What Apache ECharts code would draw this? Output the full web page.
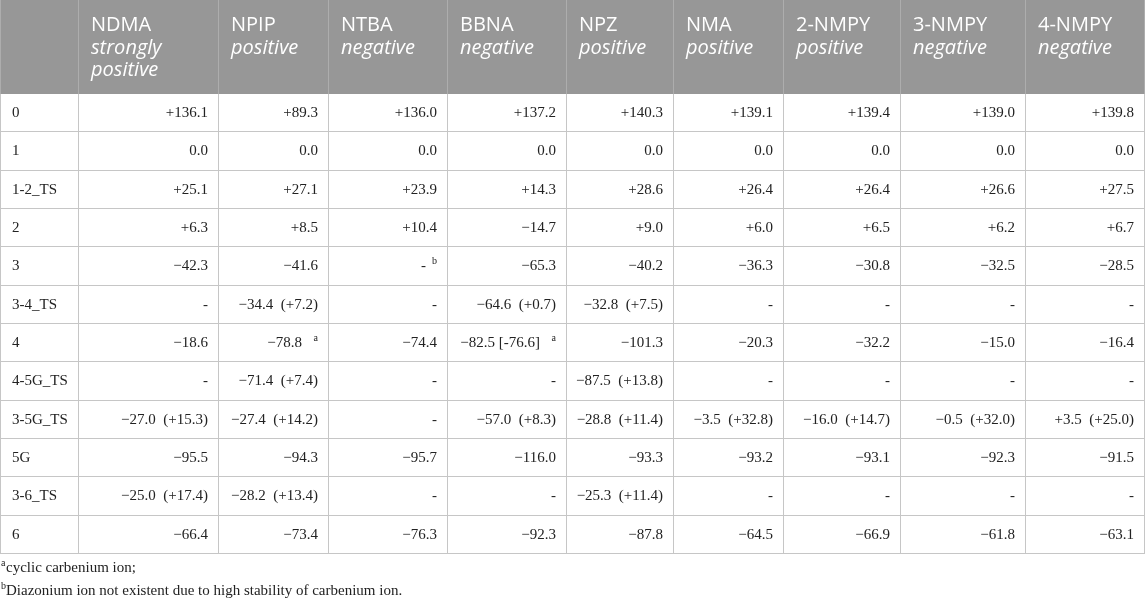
<!DOCTYPE html>
<html>
<head>
<meta charset="utf-8">
<script src="https://cdn.jsdelivr.net/npm/echarts@6/dist/echarts.min.js"></script>
<style>
html,body{margin:0;padding:0;background:#fff;}
#main{width:1145px;height:601px;}
</style>
</head>
<body>
<div id="main"></div>
<script>
// ---- data ----
const compounds = ['NDMA', 'NPIP', 'NTBA', 'BBNA', 'NPZ', 'NMA', '2-NMPY', '3-NMPY', '4-NMPY'];
const activity = [['strongly', 'positive'], ['positive'], ['negative'], ['negative'], ['positive'], ['positive'], ['positive'], ['negative'], ['negative']];
const species = ['0', '1', '1-2_TS', '2', '3', '3-4_TS', '4', '4-5G_TS', '3-5G_TS', '5G', '3-6_TS', '6'];
const NDMA  = ['+136.1', '0.0', '+25.1', '+6.3',  '\u221242.3', '-', '\u221218.6', '-', '\u221227.0\u2002(+15.3)', '\u221295.5', '\u221225.0\u2002(+17.4)', '\u221266.4'];
const NPIP  = ['+89.3',  '0.0', '+27.1', '+8.5',  '\u221241.6', '\u221234.4\u2002(+7.2)', '\u221278.8', '\u221271.4\u2002(+7.4)', '\u221227.4\u2002(+14.2)', '\u221294.3', '\u221228.2\u2002(+13.4)', '\u221273.4'];
const NTBA  = ['+136.0', '0.0', '+23.9', '+10.4', '-', '-', '\u221274.4', '-', '-', '\u221295.7', '-', '\u221276.3'];
const BBNA  = ['+137.2', '0.0', '+14.3', '\u221214.7', '\u221265.3', '\u221264.6\u2002(+0.7)', '\u221282.5 [-76.6]', '-', '\u221257.0\u2002(+8.3)', '\u2212116.0', '-', '\u221292.3'];
const NPZ   = ['+140.3', '0.0', '+28.6', '+9.0',  '\u221240.2', '\u221232.8\u2002(+7.5)', '\u2212101.3', '\u221287.5\u2002(+13.8)', '\u221228.8\u2002(+11.4)', '\u221293.3', '\u221225.3\u2002(+11.4)', '\u221287.8'];
const NMA   = ['+139.1', '0.0', '+26.4', '+6.0',  '\u221236.3', '-', '\u221220.3', '-', '\u22123.5\u2002(+32.8)', '\u221293.2', '-', '\u221264.5'];
const NMPY2 = ['+139.4', '0.0', '+26.4', '+6.5',  '\u221230.8', '-', '\u221232.2', '-', '\u221216.0\u2002(+14.7)', '\u221293.1', '-', '\u221266.9'];
const NMPY3 = ['+139.0', '0.0', '+26.6', '+6.2',  '\u221232.5', '-', '\u221215.0', '-', '\u22120.5\u2002(+32.0)', '\u221292.3', '-', '\u221261.8'];
const NMPY4 = ['+139.8', '0.0', '+27.5', '+6.7',  '\u221228.5', '-', '\u221216.4', '-', '+3.5\u2002(+25.0)', '\u221291.5', '-', '\u221263.1'];
const footMarks = [['NPIP', '4', 'a'], ['NTBA', '3', 'b'], ['BBNA', '4', 'a']];
const footnotes = [['a', 'cyclic carbenium ion;'], ['b', 'Diazonium ion not existent due to high stability of carbenium ion.']];

const values = [NDMA, NPIP, NTBA, BBNA, NPZ, NMA, NMPY2, NMPY3, NMPY4];

// ---- layout (not data) ----
const colEdges = [0, 79, 219, 329, 448, 567, 674, 784, 901, 1026, 1145];
const headerH = 94;
const tableH = 554;
const rowH = (tableH - headerH) / species.length;
function rowTop(r) { return r < 0 ? 0 : headerH + r * rowH; }
function rowBot(r) { return r < 0 ? headerH : headerH + (r + 1) * rowH; }

const SERIF = '"Liberation Serif", "Times New Roman", serif';
const SANS = '"Open Sans", "Noto Sans", sans-serif';
const TXT = '#222222';
const LINE = '#c6c6c6';
const HLINE = '#adadad';

// cells: [col, row]; row -1 = header
const cells = [];
for (let c = 0; c < colEdges.length - 1; c++) {
  for (let r = -1; r < species.length; r++) cells.push([c, r]);
}
function supFor(c, r) {
  if (c === 0 || r < 0) return null;
  const f = footMarks.find(m => m[0] === compounds[c - 1] && m[1] === species[r]);
  return f ? f[2] : null;
}
function line(xa, ya, xb, yb, color) {
  return { type: 'line', z2: 10, shape: { x1: xa, y1: ya, x2: xb, y2: yb }, style: { stroke: color, lineWidth: 1 } };
}

function renderItem(params, api) {
  const c = api.value(0), r = api.value(1);
  const p0 = api.coord([colEdges[c], rowTop(r)]);
  const p1 = api.coord([colEdges[c + 1], rowBot(r)]);
  const x0 = Math.round(p0[0]), y0 = Math.round(p0[1]), x1 = Math.round(p1[0]), y1 = Math.round(p1[1]);
  const cy = (y0 + y1) / 2;
  const children = [];
  const header = r < 0;
  children.push({
    type: 'rect', z2: 0,
    shape: { x: x0, y: y0, width: x1 - x0, height: y1 - y0 },
    style: { fill: header ? '#979797' : '#ffffff' }
  });
  const lc = header ? HLINE : LINE;
  // right edge
  const xr = Math.min(x1, 1145) - 0.5;
  children.push(line(xr, y0, xr, y1, lc));
  if (c === 0) children.push(line(x0 + 0.5, y0, x0 + 0.5, y1, lc));
  if (!header) children.push(line(x0, y1 - 0.5, x1, y1 - 0.5, LINE));
  if (header) {
    if (c > 0) {
      const lines = [[compounds[c - 1], 'normal']].concat(activity[c - 1].map(t => [t, 'italic']));
      lines.forEach((ln, i) => {
        children.push({
          type: 'text', z2: 20, x: x0 + 12, y: y0 + 25.5 + i * 22.5,
          style: { text: ln[0], fill: '#ffffff', font: ln[1] + ' 20px ' + SANS, align: 'left', verticalAlign: 'middle' }
        });
      });
    }
  } else if (c === 0) {
    children.push({
      type: 'text', z2: 20, x: x0 + 12, y: cy,
      style: { text: species[r], fill: TXT, font: '15px ' + SERIF, align: 'left', verticalAlign: 'middle' }
    });
  } else {
    const sup = supFor(c, r);
    const txt = values[c - 1][r];
    const off = sup ? (txt === '-' ? 22 : 27) : 11;
    children.push({
      type: 'text', z2: 20, x: x1 - off, y: cy,
      style: { text: txt, fill: TXT, font: '15px ' + SERIF, align: 'right', verticalAlign: 'middle' }
    });
    if (sup) {
      children.push({
        type: 'text', z2: 20, x: x1 - 11, y: cy - 5,
        style: { text: sup, fill: TXT, font: '10px ' + SERIF, align: 'right', verticalAlign: 'middle' }
      });
    }
  }
  return { type: 'group', children: children };
}

const graphics = [];
footnotes.forEach((f, i) => {
  const cy = 568 + i * 23;
  graphics.push({ type: 'text', x: 1, y: cy - 5, style: { text: f[0], fill: TXT, font: '10px ' + SERIF, verticalAlign: 'middle' } });
  graphics.push({ type: 'text', x: 6, y: cy, style: { text: f[1], fill: TXT, font: '15px ' + SERIF, verticalAlign: 'middle' } });
});

const chart = echarts.init(document.getElementById('main'), null, { renderer: 'canvas' });
chart.setOption({
  animation: false,
  grid: { left: 0, right: 0, top: 0, bottom: 601 - tableH },
  xAxis: { type: 'value', min: 0, max: colEdges[colEdges.length - 1], show: false },
  yAxis: { type: 'value', min: 0, max: tableH, inverse: true, show: false },
  series: [{
    type: 'custom',
    renderItem: renderItem,
    data: cells,
    encode: { x: 0, y: 1 },
    clip: false,
    silent: true
  }],
  graphic: graphics
});
</script>
</body>
</html>
